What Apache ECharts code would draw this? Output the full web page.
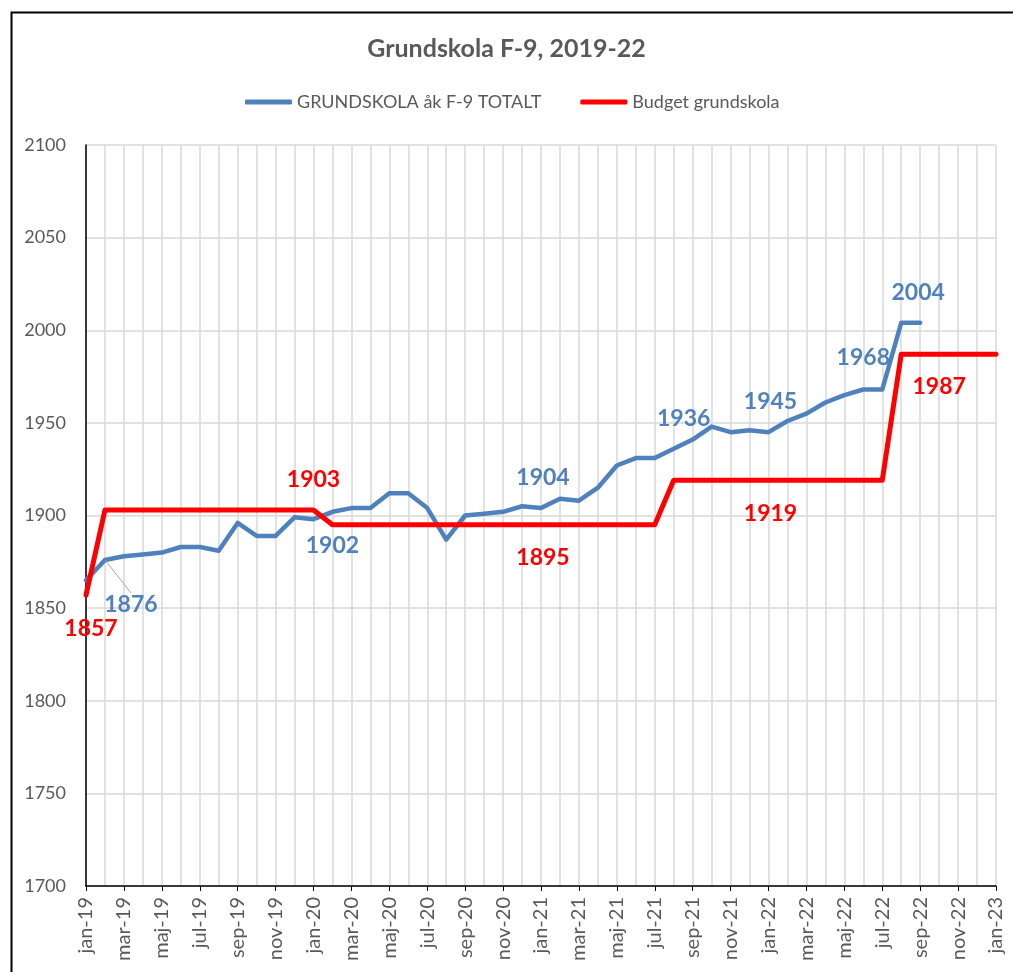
<!DOCTYPE html>
<html>
<head>
<meta charset="utf-8">
<script src="https://cdn.jsdelivr.net/npm/echarts@6/dist/echarts.min.js"></script>
<style>
html,body{margin:0;padding:0;background:#fff;}
#c{width:1013px;height:972px;}
</style>
</head>
<body>
<div id="c"></div>
<script>
const months = ['jan-19','feb-19','mar-19','apr-19','maj-19','jun-19','jul-19','aug-19','sep-19','okt-19','nov-19','dec-19',
  'jan-20','feb-20','mar-20','apr-20','maj-20','jun-20','jul-20','aug-20','sep-20','okt-20','nov-20','dec-20',
  'jan-21','feb-21','mar-21','apr-21','maj-21','jun-21','jul-21','aug-21','sep-21','okt-21','nov-21','dec-21',
  'jan-22','feb-22','mar-22','apr-22','maj-22','jun-22','jul-22','aug-22','sep-22','okt-22','nov-22','dec-22',
  'jan-23'];

const actual = [1865,1876,1878,1879,1880,1883,1883,1881,1896,1889,1889,1899,
  1898,1902,1904,1904,1912,1912,1904,1887,1900,1901,1902,1905,
  1904,1909,1908,1915,1927,1931,1931,1936,1941,1948,1945,1946,
  1945,1951,1955,1961,1965,1968,1968,2004,2004];

const budget = [1857,1903,1903,1903,1903,1903,1903,1903,1903,1903,1903,1903,
  1903,1895,1895,1895,1895,1895,1895,1895,1895,1895,1895,1895,
  1895,1895,1895,1895,1895,1895,1895,1919,1919,1919,1919,1919,
  1919,1919,1919,1919,1919,1919,1919,1987,1987,1987,1987,1987,
  1987];

const seriesNames = ['GRUNDSKOLA åk F-9 TOTALT', 'Budget grundskola'];
const yTicks = [1700, 2100, 50];

// label placements (style): index -> pixel offset from the point
const actualLabels = {1:[26,45],13:[0,34],24:[2,-30],31:[10,-30],36:[2,-30],41:[0,-31],44:[-2,-30]};
const budgetLabels = {0:[5,34],12:[0,-30],24:[2,33],36:[2,34],45:[0,33]};

const FONT = 'Lato';
const BLUE = '#4f81bd';
const RED = '#ff0000';
const GREY = '#595959';

function build(values, labels, color) {
  return values.map((v, i) => {
    if (labels[i]) {
      const item = {value: v, label: {show: true, offset: labels[i]}};
      if (i === 1 && color === BLUE) {
        item.labelLine = {show: true, lineStyle: {color: '#a6a6a6', width: 1}};
      }
      return item;
    }
    return v;
  });
}

const labelStyle = (color) => ({
  show: false, position: 'top', distance: 0, align: 'center', verticalAlign: 'middle',
  fontFamily: FONT, fontSize: 23, fontWeight: 'bold', color: color,
  formatter: p => String(p.value)
});

const chart = echarts.init(document.getElementById('c'), null, {renderer: 'canvas'});
chart.setOption({
  animation: false,
  backgroundColor: '#fff',
  title: {
    text: 'Grundskola F-9, 2019-22', left: 'center', top: 31,
    textStyle: {fontFamily: FONT, fontSize: 25, fontWeight: 'bold', color: GREY}
  },
  legend: {
    top: 88, left: 240, itemGap: 39, itemWidth: 47, itemHeight: 5,
    icon: 'roundRect',
    textStyle: {fontFamily: FONT, fontSize: 18, color: GREY},
    data: seriesNames
  },
  graphic: [{
    type: 'rect', left: 9, top: 10, shape: {x: 0, y: 0, width: 1100, height: 1100},
    style: {fill: 'none', stroke: '#000', lineWidth: 2}, silent: true
  }],
  grid: {left: 86, right: 17, top: 145, bottom: 86, containLabel: false},
  xAxis: {
    type: 'category', data: months, boundaryGap: false,
    axisLine: {lineStyle: {color: '#000', width: 1.5}},
    axisTick: {show: true, interval: 1, length: 5, lineStyle: {color: '#000'}},
    axisLabel: {interval: 1, rotate: 90, margin: 11, fontFamily: FONT, fontSize: 20, color: GREY},
    splitLine: {show: true, interval: 0, lineStyle: {color: '#d9d9d9', width: 1.5}}
  },
  yAxis: {
    type: 'value', min: yTicks[0], max: yTicks[1], interval: yTicks[2],
    axisLine: {show: true, lineStyle: {color: '#000', width: 1.5}},
    axisTick: {show: false},
    axisLabel: {margin: 20, fontFamily: FONT, fontSize: 18, color: GREY, formatter: v => String(v)},
    splitLine: {lineStyle: {color: '#d9d9d9', width: 1.5}}
  },
  series: [
    {
      name: seriesNames[0], type: 'line', data: build(actual, actualLabels, BLUE),
      showSymbol: true, showAllSymbol: true, symbol: 'circle', symbolSize: 1,
      itemStyle: {color: BLUE},
      lineStyle: {color: BLUE, width: 4.5, cap: 'round', join: 'round'},
      label: labelStyle(BLUE),
      z: 2
    },
    {
      name: seriesNames[1], type: 'line', data: build(budget, budgetLabels, RED),
      showSymbol: true, showAllSymbol: true, symbol: 'circle', symbolSize: 1,
      itemStyle: {color: RED},
      lineStyle: {color: RED, width: 5, cap: 'round', join: 'round'},
      label: labelStyle(RED),
      z: 3
    }
  ]
});
</script>
</body>
</html>
